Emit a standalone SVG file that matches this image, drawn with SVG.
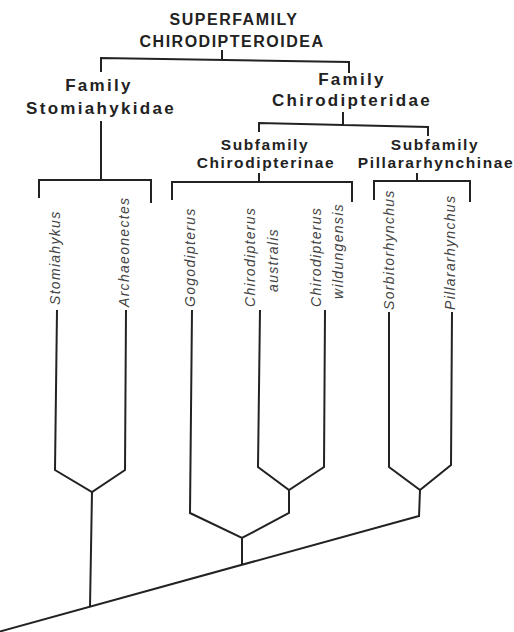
<svg xmlns="http://www.w3.org/2000/svg" width="514" height="632" viewBox="0 0 514 632">
<style>
.h{font-family:"Liberation Sans",Arial,sans-serif;font-weight:bold;fill:#222;text-anchor:middle}
.t{font-size:16px;letter-spacing:1.5px}
.f{font-size:17px;letter-spacing:2.3px}
.s{font-size:15.5px;letter-spacing:1.6px}
.sp{font-family:"Liberation Sans",Arial,sans-serif;font-style:italic;font-size:14px;letter-spacing:1.3px;fill:#444}
.ln{fill:none;stroke:#222;stroke-width:2;stroke-linejoin:miter;stroke-linecap:butt}
</style>
<rect width="514" height="632" fill="#fff"/>
<g id="superfamily"><text class="h t" x="234" y="25">SUPERFAMILY</text><text class="h t" x="232" y="47">CHIRODIPTEROIDEA</text></g>
<g id="fam-stomiahykidae"><text class="h f" x="99" y="91">Family</text><text class="h f" x="101" y="114">Stomiahykidae</text></g>
<g id="fam-chirodipteridae"><text class="h f" x="352" y="85">Family</text><text class="h f" x="352" y="106">Chirodipteridae</text></g>
<g id="sub-chirodipterinae"><text class="h s" x="265" y="150">Subfamily</text><text class="h s" x="266" y="168">Chirodipterinae</text></g>
<g id="sub-pillararhynchinae"><text class="h s" x="435" y="150">Subfamily</text><text class="h s" x="436" y="168">Pillararhynchinae</text></g>
<g id="sp-stomiahykus"><text class="sp" transform="translate(60,305) rotate(-90)">Stomiahykus</text></g>
<g id="sp-archaeonectes"><text class="sp" transform="translate(129,307) rotate(-90)">Archaeonectes</text></g>
<g id="sp-gogodipterus"><text class="sp" transform="translate(195,307) rotate(-90)">Gogodipterus</text></g>
<g id="sp-chirodipterus-australis"><text class="sp" transform="translate(255,307) rotate(-90)">Chirodipterus</text><text class="sp" text-anchor="middle" transform="translate(278,260) rotate(-90)">australis</text></g>
<g id="sp-chirodipterus-wildungensis"><text class="sp" transform="translate(321,307) rotate(-90)">Chirodipterus</text><text class="sp" text-anchor="middle" transform="translate(343,251) rotate(-90)">wildungensis</text></g>
<g id="sp-sorbitorhynchus"><text class="sp" transform="translate(394,310) rotate(-90)">Sorbitorhynchus</text></g>
<g id="sp-pillararhynchus"><text class="sp" transform="translate(455,310) rotate(-90)">Pillararhynchus</text></g>
<g id="connectors" class="ln">
<path d="M222,50 V59 M101,72 V58 L349,62 V73"/>
<path d="M101,121 V180 M39,198 V180 H151 V203"/>
<path d="M343,112 V125 M259,132 V123 L428,127 V136"/>
<path d="M259,173 V182 M172,200 V182 H352 V202"/>
<path d="M417,173 V181 M374,200 V181 H470 V202"/>
<path d="M57,310 L55,470 L92,492 L125,470 L126,310 M92,492 L90,607"/>
<path d="M192,310 L190,513 L242,538 L289,513 L289,490 M260,310 L258,467 L289,490 L324,467 L325,310 M242,538 V565"/>
<path d="M389,312 V467 L420,490 L451,465 L452,312 M420,490 L419,517"/>
<path d="M-2,632 L419,516"/>
</g>
</svg>
